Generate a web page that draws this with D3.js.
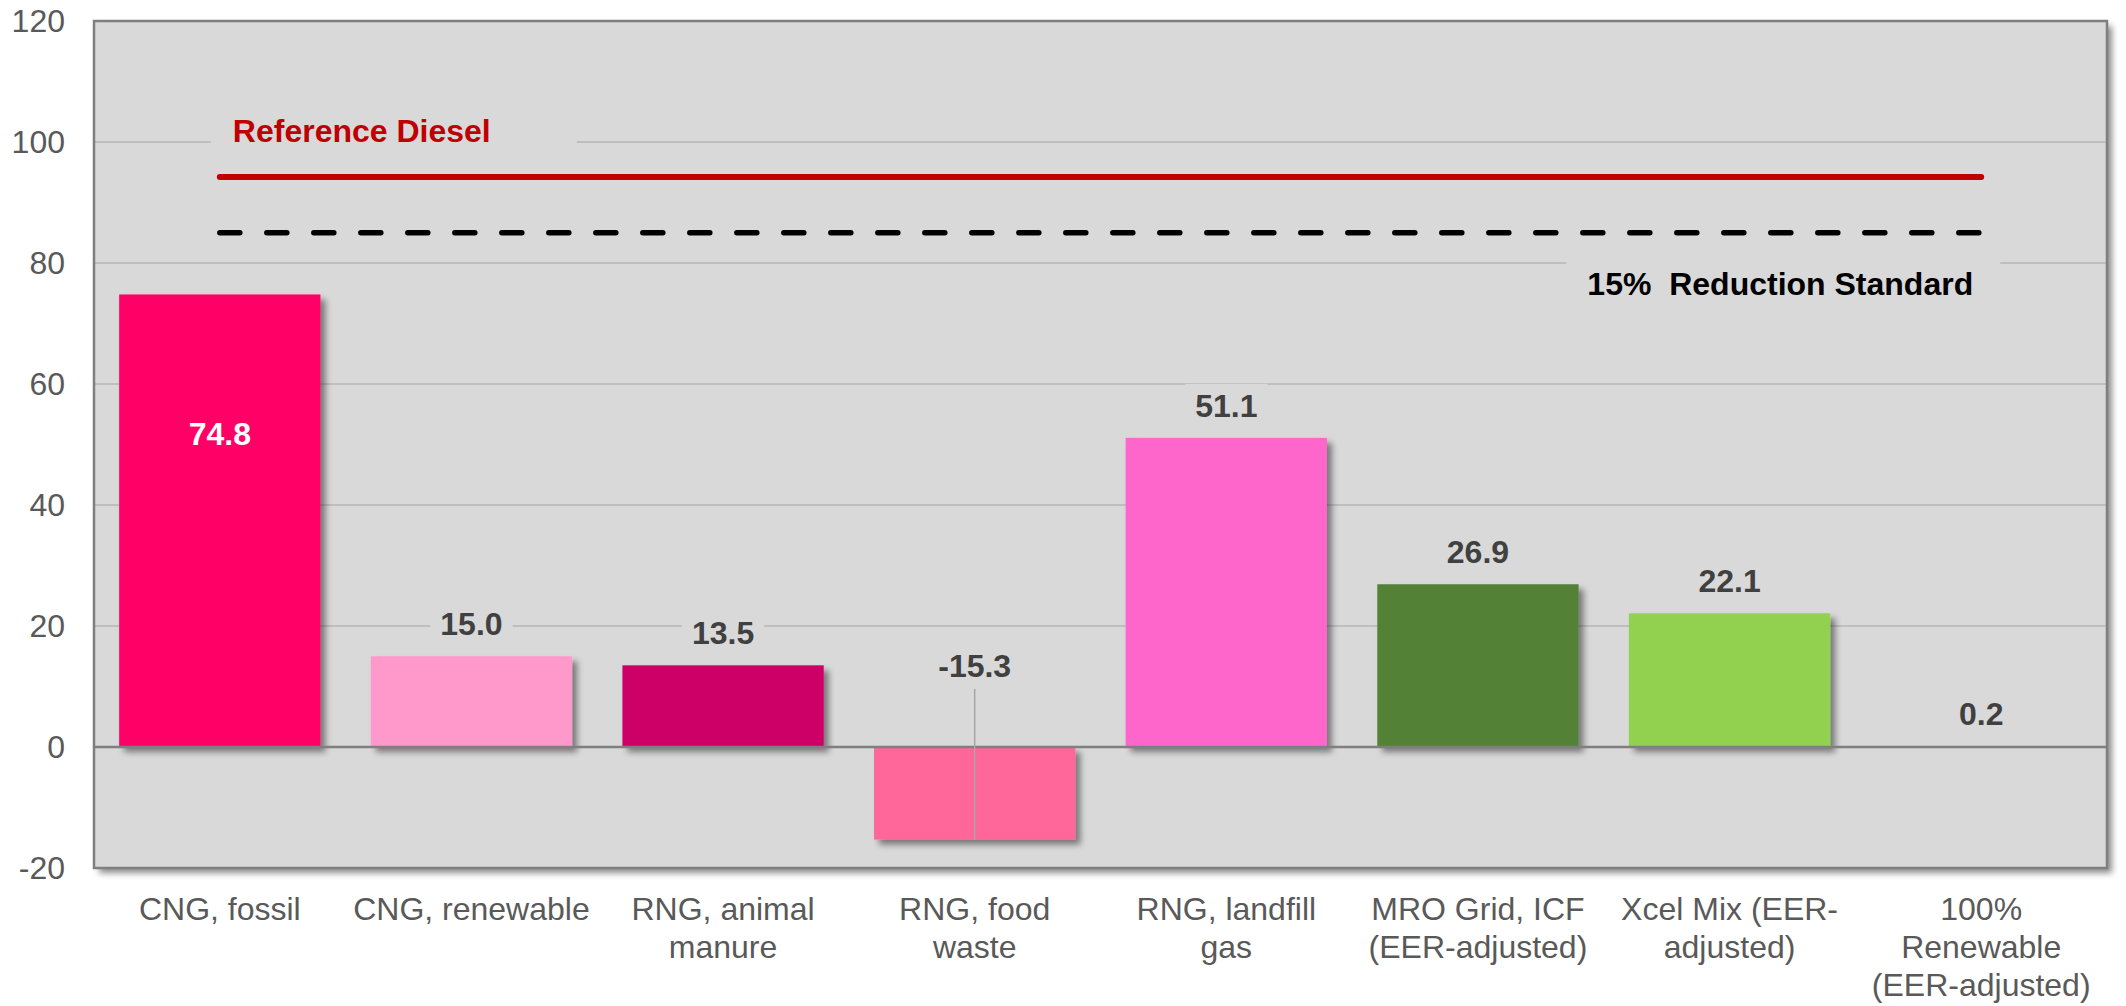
<!DOCTYPE html>
<html>
<head>
<meta charset="utf-8">
<script src="https://cdn.jsdelivr.net/npm/d3@7"></script>
<style>
  html, body { margin: 0; padding: 0; background: #ffffff; }
  svg { display: block; font-family: "Liberation Sans", Arial, sans-serif; }
</style>
</head>
<body>
<svg id="chart" width="2126" height="1006"></svg>
<script>
// ---- data ----
const categories = [
  "CNG, fossil",
  "CNG, renewable",
  "RNG, animal\nmanure",
  "RNG, food\nwaste",
  "RNG, landfill\ngas",
  "MRO Grid, ICF\n(EER-adjusted)",
  "Xcel Mix (EER-\nadjusted)",
  "100%\nRenewable\n(EER-adjusted)"
];
const values = [74.8, 15.0, 13.5, -15.3, 51.1, 26.9, 22.1, 0.2];
const barColors = ["#ff0066", "#ff99cc", "#cc0066", "#ff6699", "#ff66cc", "#538135", "#92d050", "#c5e0b4"];
const yTicks = [-20, 0, 20, 40, 60, 80, 100, 120];
const referenceDiesel = 94.2;
const reductionStandard = 85.0;
const referenceLabel = "Reference Diesel";
const standardLabel = "15%  Reduction Standard";

// ---- layout ----
const W = 2126, H = 1006;
const plot = { left: 94, right: 2107, top: 21, bottom: 868 };
const plotBg = "#d9d9d9";
const fmt = v => v.toFixed(1);

const svg = d3.select("#chart");
svg.append("rect").attr("width", W).attr("height", H).attr("fill", "#fff");

const defs = svg.append("defs");
const f = defs.append("filter").attr("id", "shadow")
  .attr("x", "-20%").attr("y", "-20%").attr("width", "150%").attr("height", "150%");
f.append("feDropShadow").attr("dx", 5).attr("dy", 5).attr("stdDeviation", 3)
  .attr("flood-color", "#000").attr("flood-opacity", 0.45);

const x = d3.scaleBand().domain(categories)
  .range([plot.left, plot.right]).paddingInner(0.2).paddingOuter(0.1);
const y = d3.scaleLinear().domain([-20, 120]).range([plot.bottom, plot.top]);

// plot background with shadow
svg.append("rect")
  .attr("x", plot.left).attr("y", plot.top)
  .attr("width", plot.right - plot.left).attr("height", plot.bottom - plot.top)
  .attr("fill", plotBg).attr("filter", "url(#shadow)");

// gridlines
svg.append("g").selectAll("line").data(yTicks.filter(d => d !== 0)).join("line")
  .attr("x1", plot.left).attr("x2", plot.right)
  .attr("y1", d => y(d)).attr("y2", d => y(d))
  .attr("stroke", "#bfbfbf").attr("stroke-width", 2);

// y axis labels
const yAxis = svg.append("g").attr("transform", `translate(${plot.left},0)`)
  .call(d3.axisLeft(y).tickValues(yTicks).tickSize(0).tickPadding(29).tickFormat(d => String(d)));
yAxis.select(".domain").remove();
yAxis.selectAll("text").attr("font-size", 32).attr("fill", "#595959")
  .attr("font-family", "'Liberation Sans', Arial, sans-serif");

// label backgrounds (hide gridlines) sit under the bars
const bgLayer = svg.append("g");

// bars
const data = categories.map((c, i) => ({ c, v: values[i], color: barColors[i] }));
svg.append("g").selectAll("rect").data(data).join("rect")
  .attr("x", d => x(d.c))
  .attr("width", x.bandwidth())
  .attr("y", d => y(Math.max(0, d.v)))
  .attr("height", d => Math.abs(y(d.v) - y(0)))
  .attr("fill", d => d.color)
  .attr("filter", "url(#shadow)");

// zero line
svg.append("line")
  .attr("x1", plot.left).attr("x2", plot.right)
  .attr("y1", y(0)).attr("y2", y(0))
  .attr("stroke", "#7f7f7f").attr("stroke-width", 2.5);

const textLayer = svg.append("g");

function addLabel(txt, px, py, opts) {
  const t = textLayer.append("text")
    .attr("x", px).attr("y", py)
    .attr("text-anchor", opts.anchor || "middle")
    .attr("font-size", opts.size || 32)
    .attr("font-weight", "bold")
    .attr("fill", opts.color || "#404040")
    .style("white-space", "pre")
    .text(txt);
  if (opts.bg) {
    const b = t.node().getBBox();
    const pl = opts.padL ?? 10, pr = opts.padR ?? 10;
    bgLayer.append("rect")
      .attr("x", b.x - pl).attr("y", b.y - 4)
      .attr("width", b.width + pl + pr).attr("height", b.height + 8)
      .attr("fill", plotBg);
  }
  return t;
}

// data labels
data.forEach((d, i) => {
  const cx = x(d.c) + x.bandwidth() / 2;
  const lbl = fmt(d.v);
  if (i === 0) {
    addLabel(lbl, cx, y(d.v * 2 / 3), { color: "#ffffff" });
  } else if (d.v < 0) {
    const by = y(0) - 70;
    addLabel(lbl, cx, by, { bg: true });
    textLayer.append("line")
      .attr("x1", cx).attr("x2", cx)
      .attr("y1", by + 12).attr("y2", y(d.v))
      .attr("stroke", "#a6a6a6").attr("stroke-width", 1.5);
  } else {
    addLabel(lbl, cx, y(d.v) - 21, { bg: true });
  }
});

// reference lines
const lx1 = x(categories[0]) + x.bandwidth() / 2;
const lx2 = x(categories[categories.length - 1]) + x.bandwidth() / 2;
svg.append("line")
  .attr("x1", lx1).attr("x2", lx2)
  .attr("y1", y(referenceDiesel)).attr("y2", y(referenceDiesel))
  .attr("stroke", "#c00000").attr("stroke-width", 6).attr("stroke-linecap", "round");
svg.append("line")
  .attr("x1", lx1).attr("x2", lx2)
  .attr("y1", y(reductionStandard)).attr("y2", y(reductionStandard))
  .attr("stroke", "#000").attr("stroke-width", 5.5).attr("stroke-linecap", "round")
  .attr("stroke-dasharray", "20 27");

addLabel(referenceLabel, lx1 + 13, y(referenceDiesel) - 35,
  { anchor: "start", color: "#c00000", bg: true, padL: 22, padR: 86 });
addLabel(standardLabel, lx2 - 8, y(reductionStandard) + 62,
  { anchor: "end", color: "#000000", bg: true, padL: 21, padR: 27 });

// plot border
svg.append("rect")
  .attr("x", plot.left).attr("y", plot.top)
  .attr("width", plot.right - plot.left).attr("height", plot.bottom - plot.top)
  .attr("fill", "none").attr("stroke", "#7f7f7f").attr("stroke-width", 2.5);

// x axis labels
const xAxis = svg.append("g").attr("transform", `translate(0,${plot.bottom})`)
  .call(d3.axisBottom(x).tickSize(0));
xAxis.select(".domain").remove();
xAxis.selectAll("text").each(function (d) {
  const t = d3.select(this);
  t.text(null).attr("y", 52).attr("dy", null)
    .attr("font-size", 32).attr("fill", "#595959")
    .attr("font-family", "'Liberation Sans', Arial, sans-serif");
  d.split("\n").forEach((line, k) => {
    t.append("tspan").attr("x", 0).attr("dy", k === 0 ? 0 : 38).text(line);
  });
});
</script>
</body>
</html>
